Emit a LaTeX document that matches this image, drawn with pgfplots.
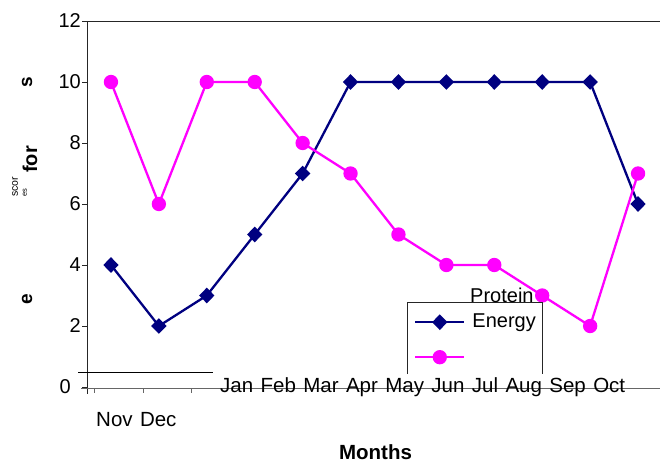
\documentclass[border=0pt]{standalone}
\usepackage{fontspec}
\setmainfont{Liberation Sans}
\usepackage{pgfplots}
\pgfplotsset{compat=1.18}
\definecolor{navy}{RGB}{0,0,128}
\definecolor{mag}{RGB}{255,0,255}
\begin{document}
\begin{tikzpicture}[font=\fontsize{20}{24}\selectfont]
% axis frame pieces
\draw[black!85, line width=0.9pt] (87pt,-21pt) -- (87pt,-394pt);
\draw[black!85, line width=0.9pt] (87pt,-21pt) -- (662pt,-21pt);
\draw[black!60, line width=0.9pt] (81pt,-388pt) -- (662pt,-388pt);
\draw[black, line width=0.9pt] (78pt,-372pt) -- (213pt,-372pt);
\foreach \x in {94,143,191} \draw[black!60, line width=0.9pt] (\x pt,-388pt) -- (\x pt,-393pt);
\begin{axis}[
  at={(87pt,-387pt)}, anchor=south west,
  width=575pt, height=366pt, scale only axis,
  xmin=-0.5, xmax=11.5, ymin=0, ymax=12,
  axis line style={draw=none},
  xtick=\empty, ytick={0,2,4,6,8,10,12},
  yticklabels={0\kern10pt,2,4,6,8,10,12},
  tick align=outside, major tick length=5pt,
  tick style={black!85, line width=0.9pt},
  yticklabel style={font=\fontsize{20}{24}\selectfont, inner sep=0pt, xshift=-1pt},
  /pgf/number format/assume math mode=true,
  clip=false,
  legend style={draw=none, fill=none, inner sep=0pt, outer sep=0pt,
    at={(axis cs:6.327,2.42)}, anchor=north west,
    row sep=17pt, column sep=7pt,
    nodes={inner sep=0pt, text height=14pt, text depth=4pt, font=\fontsize{20}{24}\selectfont}},
  legend image code/.code={\draw[mark repeat=2,mark phase=2,#1] plot coordinates {(0pt,0pt) (24.5pt,0pt) (49pt,0pt)};},
]
\addplot[navy, line width=2.3pt, mark=diamond*, mark size=6.2pt, mark options={draw=none, fill=navy, xscale=1.3}]
  coordinates {(0,4) (1,2) (2,3) (3,5) (4,7) (5,10) (6,10) (7,10) (8,10) (9,10) (10,10) (11,6)};
\addplot[mag, line width=2.3pt, mark=*, mark size=6pt, mark options={draw=none, fill=mag}]
  coordinates {(0,10) (1,6) (2,10) (3,10) (4,8) (5,7) (6,5) (7,4) (8,4) (9,3) (10,2) (11,7)};
\legend{Energy,\mbox{}}
\end{axis}
% legend box (open at bottom)
\draw[black!85, line width=0.9pt] (407pt,-374pt) -- (407pt,-302pt) -- (542pt,-302pt) -- (542pt,-374pt);
\node[anchor=base west, inner sep=0pt] at (470pt,-302pt) {Protein};
% month labels
\node[anchor=base west, inner sep=0pt, font=\fontsize{20.5}{24}\selectfont] at (220pt,-392pt)
  {\spaceskip=7.4pt Jan Feb Mar Apr May Jun Jul Aug Sep Oct};
\node[anchor=base west, inner sep=0pt, font=\fontsize{20.5}{24}\selectfont] at (96pt,-426pt)
  {\spaceskip=7.4pt Nov Dec};
\node[anchor=base, inner sep=0pt, font=\bfseries\fontsize{20.5}{24}\selectfont] at (375.5pt,-459pt) {Months};
% garbled y label pieces
\node[rotate=90, inner sep=0pt, font=\bfseries\fontsize{19}{22}\selectfont] at (27pt,-82pt) {s};
\node[rotate=90, anchor=west, inner sep=0pt, font=\bfseries\fontsize{20}{22}\selectfont] at (30pt,-173pt) {for};
\node[rotate=90, anchor=west, inner sep=0pt, font=\fontsize{10.5}{12}\selectfont] at (15pt,-197pt) {scor};
\node[rotate=90, anchor=west, inner sep=0pt, font=\fontsize{7.5}{9}\selectfont] at (25pt,-197pt) {es};
\node[rotate=90, inner sep=0pt, font=\bfseries\fontsize{19}{22}\selectfont] at (27pt,-299pt) {e};
\pgfresetboundingbox
\path (0pt,0pt) rectangle (660pt,-463pt);
\end{tikzpicture}
\end{document}
